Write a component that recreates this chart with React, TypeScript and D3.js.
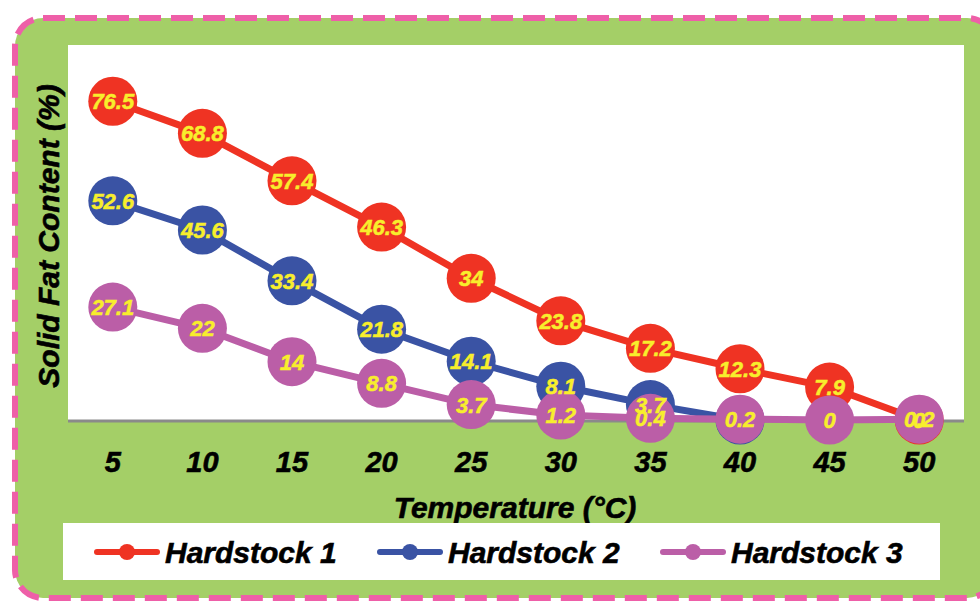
import React from "react";
import * as d3 from "d3";

const categories = ["5", "10", "15", "20", "25", "30", "35", "40", "45", "50"];
const hardstock1 = [76.5, 68.8, 57.4, 46.3, 34, 23.8, 17.2, 12.3, 7.9, 0];
const hardstock2 = [52.6, 45.6, 33.4, 21.8, 14.1, 8.1, 3.7, 0];
const hardstock2HiddenLabels = [7];
const hardstock3 = [27.1, 22, 14, 8.8, 3.7, 1.2, 0.4, 0.2, 0, 0.2];
const seriesNames = ["Hardstock 1", "Hardstock 2", "Hardstock 3"];
const seriesColors = ["#ef3323", "#3a53a4", "#bb5ea7"];

const W = 980;
const H = 601;
const FONT = "'Liberation Sans', Arial, sans-serif";

export default function App() {
  const plot = { left: 68, right: 964, top: 45, bottom: 420 };
  const x = d3.scaleBand().domain(categories).range([plot.left, plot.right]);
  const y = d3.scaleLinear().domain([0, 90]).range([plot.bottom, plot.top]);
  const cx = (i: number) => (x(categories[i]) as number) + x.bandwidth() / 2;
  const line = d3
    .line<number>()
    .x((_, i) => cx(i))
    .y((d) => y(d));

  const series = [
    { name: seriesNames[0], values: hardstock1, color: seriesColors[0], hidden: [] as number[] },
    { name: seriesNames[1], values: hardstock2, color: seriesColors[1], hidden: hardstock2HiddenLabels },
    { name: seriesNames[2], values: hardstock3, color: seriesColors[2], hidden: [] as number[] },
  ];
  const r = 24.5;

  const legendX = [97, 380, 663];
  const boldText = { fontWeight: "bold" as const, fontStyle: "italic" as const, stroke: "#000", strokeWidth: 0.6 };

  return (
    <svg
      width={W}
      height={H}
      style={{ position: "absolute", left: 0, top: 0, background: "#fff" }}
      fontFamily={FONT}
    >
      <rect
        x={15}
        y={18}
        width={980}
        height={580}
        rx={28}
        fill="#a4cf67"
        stroke="#ee5fa8"
        strokeWidth={6}
        strokeDasharray="22 10"
      />
      <rect x={plot.left} y={plot.top} width={plot.right - plot.left} height={plot.bottom - plot.top} fill="#fff" />
      <line x1={plot.left} x2={plot.right} y1={plot.bottom + 1} y2={plot.bottom + 1} stroke="#8a8a8a" strokeWidth={3} />

      {series.map((s) => (
        <g key={s.name}>
          <path d={line(s.values) || ""} fill="none" stroke={s.color} strokeWidth={7} strokeLinejoin="round" />
          {s.values.map((v, i) => (
            <circle key={i} cx={cx(i)} cy={y(v)} r={r} fill={s.color} />
          ))}
        </g>
      ))}
      {series.map((s) => (
        <g key={s.name + "-lbl"}>
          {s.values.map((v, i) =>
            s.hidden.includes(i) ? null : (
              <text
                key={i}
                x={cx(i)}
                y={y(v)}
                dy="0.36em"
                textAnchor="middle"
                fill="#f8ee2c"
                stroke="#f8ee2c"
                strokeWidth={0.5}
                fontSize={22}
                fontWeight="bold"
                fontStyle="italic"
              >
                {String(v)}
              </text>
            )
          )}
        </g>
      ))}

      {categories.map((c, i) => (
        <text key={c} x={cx(i)} y={462} dy="0.36em" textAnchor="middle" fontSize={29} fill="#000" {...boldText}>
          {c}
        </text>
      ))}

      <text x={515} y={507} dy="0.36em" textAnchor="middle" fontSize={30} {...boldText}>
        Temperature (°C)
      </text>
      <text transform={`translate(48,236) rotate(-90)`} dy="0.36em" textAnchor="middle" fontSize={30} {...boldText}>
        Solid Fat Content (%)
      </text>

      <rect x={63} y={523} width={877} height={57} fill="#fff" />
      {series.map((s, k) => (
        <g key={s.name + "-leg"} transform={`translate(${legendX[k]},552)`}>
          <line x1={0} x2={60} y1={0} y2={0} stroke={s.color} strokeWidth={6} strokeLinecap="round" />
          <circle cx={30} cy={0} r={8} fill={s.color} />
          <text x={68} y={0} dy="0.36em" fontSize={30} {...boldText}>
            {s.name}
          </text>
        </g>
      ))}
    </svg>
  );
}
